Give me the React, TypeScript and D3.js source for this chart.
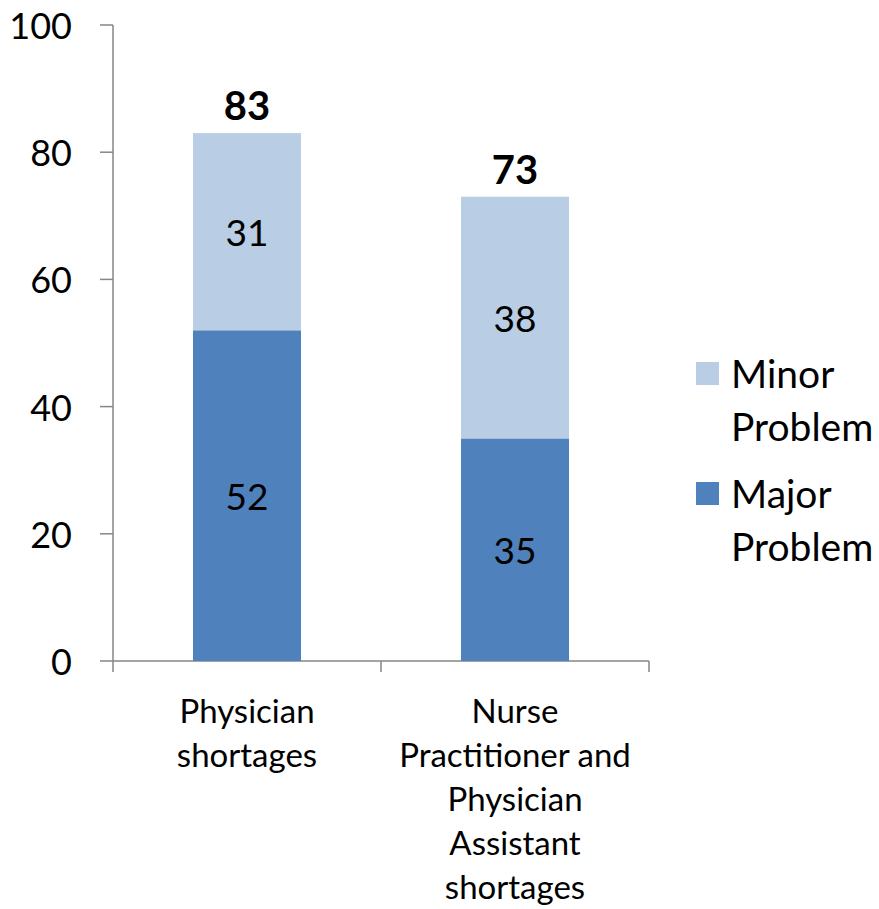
import React from "react";
import * as d3 from "d3";

const categories: string[][] = [
  ["Physician", "shortages"],
  ["Nurse", "Practitioner and", "Physician", "Assistant", "shortages"],
];
const majorValues = [52, 35];
const minorValues = [31, 38];
const totals = [83, 73];
const yTicks = [0, 20, 40, 60, 80, 100];
const seriesNames = ["Minor Problem", "Major Problem"];

const MAJOR = "#4F81BD";
const MINOR = "#B9CDE5";
const AXIS = "#868686";
const FONT = "Lato, 'Open Sans', sans-serif";

export default function App() {
  const width = 879;
  const height = 909;
  const left = 113;
  const right = 649;
  const top = 25;
  const bottom = 661;

  const y = d3.scaleLinear().domain([0, 100]).range([bottom, top]);
  const x = d3
    .scaleBand<number>()
    .domain(categories.map((_, i) => i))
    .range([left, right])
    .paddingInner(0)
    .paddingOuter(0);
  const barW = x.bandwidth() * 0.403;

  return (
    <svg
      width={width}
      height={height}
      style={{ position: "absolute", left: 0, top: 0, background: "#fff" }}
      fontFamily={FONT}
    >
      {/* y axis */}
      <line x1={left} x2={left} y1={top} y2={bottom} stroke={AXIS} strokeWidth={1.5} />
      {yTicks.map((t) => (
        <g key={t}>
          <line x1={left - 13} x2={left} y1={y(t)} y2={y(t)} stroke={AXIS} strokeWidth={1.5} />
          <text
            x={72}
            y={y(t)}
            textAnchor="end"
            dominantBaseline="central"
            fontSize={36}
            fill="#000"
          >
            {t}
          </text>
        </g>
      ))}
      {/* x axis */}
      <line x1={left} x2={right} y1={bottom} y2={bottom} stroke={AXIS} strokeWidth={1.5} />
      {[left, ...categories.map((_, i) => (x(i) as number) + x.bandwidth())].map((tx, i) => (
        <line key={i} x1={tx} x2={tx} y1={bottom} y2={bottom + 11} stroke={AXIS} strokeWidth={1.5} />
      ))}

      {/* stacked bars */}
      {categories.map((_, i) => {
        const cx = (x(i) as number) + x.bandwidth() / 2;
        const maj = majorValues[i];
        const min = minorValues[i];
        const tot = totals[i];
        return (
          <g key={i}>
            <rect x={cx - barW / 2} width={barW} y={y(maj)} height={y(0) - y(maj)} fill={MAJOR} />
            <rect
              x={cx - barW / 2}
              width={barW}
              y={y(maj + min)}
              height={y(maj) - y(maj + min)}
              fill={MINOR}
            />
            <text x={cx} y={y(maj / 2)} textAnchor="middle" dominantBaseline="central" fontSize={37}>
              {maj}
            </text>
            <text
              x={cx}
              y={y(maj + min / 2)}
              textAnchor="middle"
              dominantBaseline="central"
              fontSize={37}
            >
              {min}
            </text>
            <text
              x={cx}
              y={y(tot) - 28}
              textAnchor="middle"
              dominantBaseline="central"
              fontSize={40}
              fontWeight="bold"
            >
              {tot}
            </text>
          </g>
        );
      })}

      {/* category labels */}
      {categories.map((lines, i) => {
        const cx = (x(i) as number) + x.bandwidth() / 2;
        return (
          <text key={i} x={cx} textAnchor="middle" fontSize={33} fill="#000">
            {lines.map((ln, j) => (
              <tspan key={j} x={cx} y={710 + j * 44} dominantBaseline="central">
                {ln}
              </tspan>
            ))}
          </text>
        );
      })}

      {/* legend */}
      {seriesNames.map((name, i) => {
        const [w1, w2] = name.split(" ");
        const ly = 373 + i * 120;
        return (
          <g key={name}>
            <rect x={696} y={ly - 11} width={23} height={23} fill={i === 0 ? MINOR : MAJOR} />
            <text x={731} y={ly} dominantBaseline="central" fontSize={39}>
              {w1}
            </text>
            <text x={731} y={ly + 53} dominantBaseline="central" fontSize={39}>
              {w2}
            </text>
          </g>
        );
      })}
    </svg>
  );
}
